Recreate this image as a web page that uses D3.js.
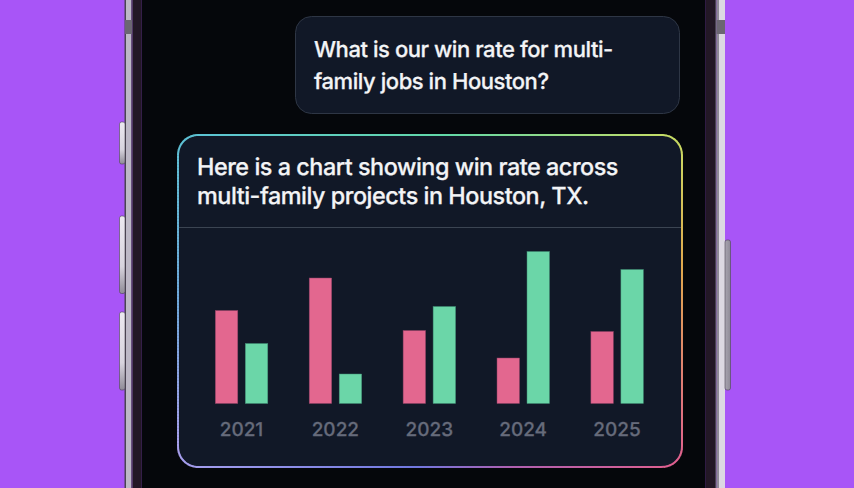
<!DOCTYPE html>
<html>
<head>
<meta charset="utf-8">
<script src="https://cdn.jsdelivr.net/npm/d3@7"></script>
<style>
  html, body { margin: 0; padding: 0; background: #a855f7; overflow: hidden; }
  svg { display: block; }
  text { font-family: Inter, "Noto Sans", sans-serif; text-rendering: geometricPrecision; }
</style>
</head>
<body>
<div id="chart"></div>
<script>
const years = ["2021", "2022", "2023", "2024", "2025"];
const series_names = ["lost", "won"];
// no axis in the original so units are arbitrary
const lost_values = [93, 125.5, 73, 45.5, 72];
const won_values = [60, 29.5, 97, 152, 134];
const question_lines = ["What is our win rate for multi-", "family jobs in Houston?"];
const answer_lines = ["Here is a chart showing win rate across", "multi-family projects in Houston, TX."];
// colours met going clockwise round the card, starting top left
const border_at = [0, 0.15, 0.29, 0.37, 0.49, 0.59, 0.65, 0.76, 0.80, 0.89, 1];
const border_stops = ["#5cc4d4", "#62d8a8", "#c8dc64", "#e0a84e", "#e0608f", "#b060b0", "#7078e0", "#9a98ec", "#a9a0ee", "#6fa8dc", "#5cc4d4"];

const width = 854, height = 488;
const svg = d3.select("#chart").append("svg")
    .attr("width", width)
    .attr("height", height);

const defs = svg.append("defs");
const left_grad = defs.append("linearGradient").attr("id", "button_left").attr("x1", 0).attr("x2", 0).attr("y1", 0).attr("y2", 1);
left_grad.append("stop").attr("offset", "0%").attr("stop-color", "#ece8f0");
left_grad.append("stop").attr("offset", "65%").attr("stop-color", "#d8d4de");
left_grad.append("stop").attr("offset", "100%").attr("stop-color", "#8f8b96");
const right_grad = defs.append("linearGradient").attr("id", "button_right").attr("x1", 0).attr("x2", 1).attr("y1", 0).attr("y2", 0);
right_grad.append("stop").attr("offset", "0%").attr("stop-color", "#a8a4b0");
right_grad.append("stop").attr("offset", "100%").attr("stop-color", "#8e8a96");

// phone body, bands from the outside in
const frame_bands = [
    {x: 124.5, w: 1.5, fill: "#4a4452"},
    {x: 126, w: 5.3, fill: "#bdb8c6"},
    {x: 131.3, w: 1.4, fill: "#4a4452"},
    {x: 132.7, w: 9, fill: "#231826"},
    {x: 141.7, w: 564, fill: "#05070b"},
    {x: 705.7, w: 9.3, fill: "#231826"},
    {x: 715, w: 1.5, fill: "#4a4452"},
    {x: 716.5, w: 2.5, fill: "#8f8a98"},
    {x: 719, w: 6, fill: "#dcd8e2"}
];
svg.selectAll(".band")
    .data(frame_bands)
    .join("rect")
    .attr("class", "band")
    .attr("x", d => d.x).attr("y", 0)
    .attr("width", d => d.w).attr("height", height)
    .attr("fill", d => d.fill);

// antenna notches
svg.selectAll(".notch")
    .data([{x: 125, w: 7}, {x: 716.5, w: 8.5}])
    .join("rect")
    .attr("class", "notch")
    .attr("x", d => d.x).attr("y", 20)
    .attr("width", d => d.w).attr("height", 14)
    .attr("fill", "#6b6672");

// side buttons
const side_buttons = [
    {x: 119.5, y: 122, w: 5.5, h: 42, fill: "url(#button_left)"},
    {x: 119.5, y: 216, w: 5.5, h: 77.5, fill: "url(#button_left)"},
    {x: 119.5, y: 312, w: 5.5, h: 78, fill: "url(#button_left)"},
    {x: 725, y: 240, w: 5.5, h: 150, fill: "url(#button_right)"}
];
svg.selectAll(".side")
    .data(side_buttons)
    .join("rect")
    .attr("class", "side")
    .attr("x", d => d.x).attr("y", d => d.y)
    .attr("width", d => d.w).attr("height", d => d.h)
    .attr("rx", 2)
    .attr("fill", d => d.fill)
    .attr("stroke", "#4a4452")
    .attr("stroke-width", 0.6);

// question bubble
svg.append("rect")
    .attr("x", 295.5).attr("y", 16.5).attr("width", 384).attr("height", 97).attr("rx", 16)
    .attr("fill", "#111827").attr("stroke", "#2e3645");
svg.selectAll(".question")
    .data(question_lines)
    .join("text")
    .attr("class", "question")
    .attr("x", 314)
    .attr("y", (d, i) => 57 + i * 32)
    .attr("fill", "#f3f4f6")
    .attr("stroke", "#f3f4f6")
    .attr("stroke-width", 0.25)
    .style("font-size", "22px")
    .style("font-weight", 500)
    .style("letter-spacing", "-0.02em")
    .text(d => d);

// answer card
const card = {x: 178, y: 135, w: 504, h: 332, r: 20};
svg.append("rect")
    .attr("x", card.x).attr("y", card.y).attr("width", card.w).attr("height", card.h).attr("rx", card.r)
    .attr("fill", "#111827");
svg.selectAll(".answer")
    .data(answer_lines)
    .join("text")
    .attr("class", "answer")
    .attr("x", 197)
    .attr("y", (d, i) => 175 + i * 29)
    .attr("fill", "#f3f4f6")
    .attr("stroke", "#f3f4f6")
    .attr("stroke-width", 0.25)
    .style("font-size", "23.4px")
    .style("font-weight", 500)
    .style("letter-spacing", "-0.02em")
    .text(d => d);
svg.append("line")
    .attr("x1", card.x).attr("x2", card.x + card.w)
    .attr("y1", 227.5).attr("y2", 227.5)
    .attr("stroke", "#3b4452");

// gradient border, walked round the card in short pieces
const outline = svg.append("rect")
    .attr("x", card.x).attr("y", card.y).attr("width", card.w).attr("height", card.h).attr("rx", card.r)
    .attr("fill", "none");
const border_color = d3.scaleLinear().domain(border_at).range(border_stops).interpolate(d3.interpolateRgb);
const total = outline.node().getTotalLength();
const pieces = d3.range(0, total, 3).map(l => {
    const a = outline.node().getPointAtLength(l);
    const b = outline.node().getPointAtLength(Math.min(l + 3.5, total));
    return {a, b, t: l / total};
});
svg.selectAll(".edge")
    .data(pieces)
    .join("line")
    .attr("class", "edge")
    .attr("x1", d => d.a.x).attr("y1", d => d.a.y)
    .attr("x2", d => d.b.x).attr("y2", d => d.b.y)
    .attr("stroke", d => border_color(d.t))
    .attr("stroke-width", 2);

// bars
const scale_x = d3.scaleBand().domain(years).range([194.5, 664]);
const scale_series = d3.scaleBand().domain(series_names).range([20.8, 73.3]).paddingInner(0.25);
const scale_y = d3.scaleLinear().domain([0, 160]).range([403.5, 243.5]);
const color = d3.scaleOrdinal().domain(series_names).range(["#e3678f", "#6bd6a8"]);
const edge_color = d3.scaleOrdinal().domain(series_names).range(["#8a3f63", "#3f8a72"]);

const rows = years.map((year, i) => ({year, lost: lost_values[i], won: won_values[i]}));
const year_group = svg.selectAll(".year")
    .data(rows)
    .join("g")
    .attr("class", "year")
    .attr("transform", d => `translate(${scale_x(d.year)}, 0)`);
year_group.selectAll("rect")
    .data(d => series_names.map(name => ({name, value: d[name]})))
    .join("rect")
    .attr("x", d => scale_series(d.name))
    .attr("y", d => scale_y(d.value))
    .attr("width", scale_series.bandwidth())
    .attr("height", d => scale_y(0) - scale_y(d.value))
    .attr("fill", d => color(d.name))
    .attr("stroke", d => edge_color(d.name))
    .attr("stroke-width", 0.5);

const x_axis = svg.append("g")
    .attr("transform", "translate(0, 403.5)")
    .call(d3.axisBottom(scale_x).tickSize(0).tickPadding(19));
x_axis.select(".domain").remove();
x_axis.selectAll("text")
    .attr("fill", "#666b7b")
    .attr("stroke", "#666b7b")
    .attr("stroke-width", 0.25)
    .style("font-family", "Inter, sans-serif")
    .style("font-size", "19px")
    .style("font-weight", 500);
</script>
</body>
</html>
